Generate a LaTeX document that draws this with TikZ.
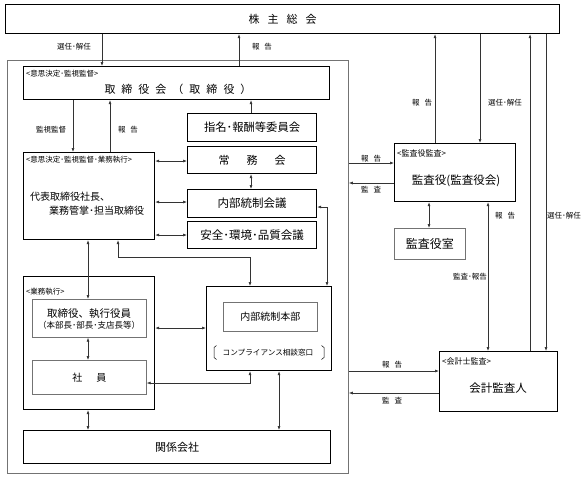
\documentclass[tikz,border=0pt]{standalone}
\usepackage{fontspec}
\setmainfont{Noto Sans CJK JP}
\usetikzlibrary{arrows.meta}
\newcommand\myfs[1]{\fontsize{#1}{#1}\selectfont}
\begin{document}
\begin{tikzpicture}[x=1pt,y=-1pt,
  >={Latex[length=4pt,width=3pt]},
  bx/.style 2 args={minimum width=#1pt,minimum height=#2pt,anchor=north west,inner sep=0pt},
  tk/.style={draw=black,line width=1.2pt},
  tn/.style={draw=black!55,line width=0.7pt},
  ob/.style={draw=black!55,line width=0.8pt},
  ar/.style={draw=black!80,line width=0.6pt,->},
  ab/.style={draw=black!80,line width=0.6pt,<->},
  lb/.style={font=\myfs{7.5},inner sep=0pt},
  sm/.style={font=\myfs{7.5},inner sep=0pt,anchor=west},
  tx/.style={inner sep=0pt}]
\fill[white] (0,0) rectangle (588,477);
\useasboundingbox (0,0) rectangle (588,477);

% helper coordinates
\foreach \v in {73,88,102,110,118,239,250,251,279,327,429,435,480,488,530,546}{\coordinate (X\v) at (\v,0);}
\foreach \v in {161,163,183,202,207,235,257,328,371,383,393}{\coordinate (Y\v) at (0,\v);}

% boxes
\node[tk,bx={554}{29}] (kabu) at (5,4) {};
\node[ob,bx={341}{413}] (outer) at (7,60) {};
\node[tk,bx={306}{33}] (tori) at (23,66) {};
\node[tk,bx={129}{28}] (shimei) at (187,113) {};
\node[tk,bx={129}{27}] (jomu) at (187,146) {};
\node[tk,bx={129}{28}] (naibu) at (187,189) {};
\node[tk,bx={129}{27}] (anzen) at (187,221) {};
\node[tk,bx={131}{87}] (daihyo) at (23,152) {};
\node[tk,bx={131}{133}] (gyomu) at (23,276) {};
\node[tn,bx={114}{38}] (yakuin) at (32,299) {};
\node[tn,bx={114}{34}] (shain) at (32,360) {};
\node[tk,bx={125}{84}] (honbu) at (206,286) {};
\node[tn,bx={94}{29}] (honbuin) at (223,302) {};
\node[tk,bx={307}{33}] (kankei) at (23,430) {};
\node[tk,bx={121}{58}] (kansa) at (394,143) {};
\node[tn,bx={71}{31}] (kansashitsu) at (394,228) {};
\node[tk,bx={118}{60}] (kaikei) at (439,351) {};

% texts in boxes
\node[tx,font=\myfs{11}] (kabuT) at (kabu.center) {株\hspace{8pt}主\hspace{8pt}総\hspace{8pt}会};
\node[sm] (toriS) at (26,74) {<意思決定･監視監督>};
\node[tx,font=\myfs{11}] (toriT) at (178,89) {取\hspace{6pt}締\hspace{6pt}役\hspace{6pt}会\hspace{6pt}（\hspace{6pt}取\hspace{6pt}締\hspace{6pt}役\hspace{6pt}）};
\node[tx,font=\myfs{11.3}] (shimeiT) at (shimei.center) {指名･報酬等委員会};
\node[tx,font=\myfs{11}] (jomuT) at (jomu.center) {常\hspace{17pt}務\hspace{17pt}会};
\node[tx,font=\myfs{11.5}] (naibuT) at (naibu.center) {内部統制会議};
\node[tx,font=\myfs{11.5}] (anzenT) at (anzen.center) {安全･環境･品質会議};
\node[sm] (daihyoS) at (26,160) {<意思決定･監視監督･業務執行>};
\node[tx,anchor=west,font=\myfs{10}] (daihyoT1) at (30,197) {代表取締役社長、};
\node[tx,anchor=west,font=\myfs{10}] (daihyoT2) at (49,211) {業務管掌･担当取締役};
\node[sm] (gyomuS) at (26,292) {<業務執行>};
\node[tx,font=\myfs{10.5}] (yakuinT1) at (89,314) {取締役、執行役員};
\node[tx,font=\myfs{8.5}] (yakuinT2) at (89,325.5) {（本部長･部長･支店長等）};
\node[tx,font=\myfs{10}] (shainT) at (shain.center) {社\hspace{14pt}員};
\node[tx,font=\myfs{10}] (honbuinT) at (honbuin.center) {内部統制本部};
\node[tx,font=\myfs{7.6}] (compT) at (268,353) {コンプライアンス相談窓口};
\draw[line width=0.5pt] (216.5,345.5) -- (214,347.5) -- (214,357.5) -- (216.5,359.5);
\draw[line width=0.5pt] (321.5,345.5) -- (324,347.5) -- (324,357.5) -- (321.5,359.5);
\node[tx,font=\myfs{11}] (kankeiT) at (kankei.center) {関係会社};
\node[sm,font=\myfs{8}] (kansaS) at (397,153) {<監査役監査>};
\node[tx,font=\myfs{11.5}] (kansaT) at (456,181) {監査役(監査役会)};
\node[tx,font=\myfs{12}] (kansashitsuT) at (kansashitsu.center) {監査役室};
\node[sm,font=\myfs{8}] (kaikeiS) at (442,361) {<会計士監査>};
\node[tx,font=\myfs{11.5}] (kaikeiT) at (498,388) {会計監査人};

% connectors
\draw[ar] (kabu.south -| X102) -- (tori.north -| X102);
\draw[ar] (tori.north -| X239) -- (kabu.south -| X239);
\draw[ar] (tori.south -| X73) -- (daihyo.north -| X73);
\draw[ar] (daihyo.north -| X110) -- (tori.south -| X110);
\draw[ar] (shimei.north -| X251) -- (tori.south -| X251);
\draw[ab] (daihyo.east |- Y161) -- (jomu.west |- Y161);
\draw[ab] (jomu.south -| X251) -- (naibu.north -| X251);
\draw[ab] (daihyo.east |- Y202) -- (naibu.west |- Y202);
\draw[ab] (daihyo.east |- Y235) -- (anzen.west |- Y235);
\draw[ab] (daihyo.south -| X88) -- (yakuin.north -| X88);
\draw[ab] (daihyo.south -| X118) |- (X250 |- Y257) -- (honbu.north -| X250);
\draw[ab] (naibu.east |- Y207) -| (honbu.north -| X327);
\draw[ab] (gyomu.east |- Y328) -- (honbu.west |- Y328);
\draw[ab] (yakuin.south -| X88) -- (shain.north -| X88);
\draw[ab] (shain.east |- Y383) -| (honbu.south -| X250);
\draw[ab] (gyomu.south -| X88) -- (kankei.north -| X88);
\draw[ab] (honbu.south -| X279) -- (kankei.north -| X279);
\draw[ar] (kansa.north -| X435) -- (kabu.south -| X435);
\draw[ar] (kabu.south -| X480) -- (kansa.north -| X480);
\draw[ar] (outer.east |- Y163) -- (kansa.west |- Y163);
\draw[ar] (kansa.west |- Y183) -- (outer.east |- Y183);
\draw[ab] (kansa.south -| X429) -- (kansashitsu.north -| X429);
\draw[ab] (kansa.south -| X488) -- (kaikei.north -| X488);
\draw[ar] (kaikei.north -| X530) -- (kabu.south -| X530);
\draw[ar] (kabu.south -| X546) -- (kaikei.north -| X546);
\draw[ar] (outer.east |- Y371) -- (kaikei.west |- Y371);
\draw[ar] (kaikei.west |- Y393) -- (outer.east |- Y393);

% connector labels
\node[lb] (l1) at (74,47) {選任･解任};
\node[lb] (l2) at (262,47) {報\hspace{5pt}告};
\node[lb] (l3) at (51,130) {監視監督};
\node[lb] (l4) at (128,130) {報\hspace{5pt}告};
\node[lb] (l5) at (422,103) {報\hspace{5pt}告};
\node[lb] (l6) at (505,103) {選任･解任};
\node[lb] (l7) at (371,159) {報\hspace{5pt}告};
\node[lb] (l8) at (371,190) {監\hspace{5pt}査};
\node[lb] (l9) at (505,216) {報\hspace{5pt}告};
\node[lb] (l10) at (564,216) {選任･解任};
\node[lb] (l11) at (470,277) {監査･報告};
\node[lb] (l12) at (392,365) {報\hspace{5pt}告};
\node[lb] (l13) at (392,401) {監\hspace{5pt}査};
\end{tikzpicture}
\end{document}
